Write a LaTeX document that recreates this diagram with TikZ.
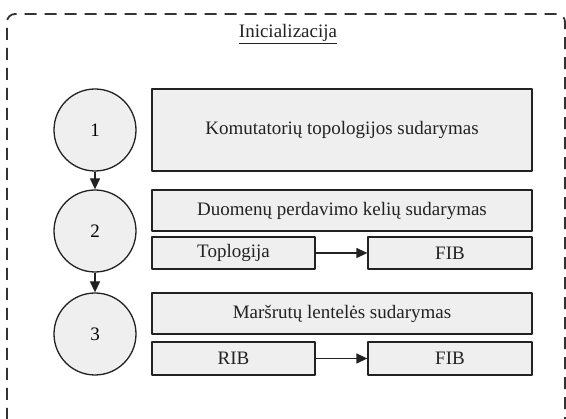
\documentclass[tikz,border=0pt]{standalone}
\usepackage{fontspec}
\setmainfont{Liberation Serif}
\usetikzlibrary{arrows.meta,positioning}
\definecolor{initInk}{HTML}{222222}
\definecolor{initFill}{HTML}{EFEFEF}
\definecolor{initFrame}{HTML}{333333}
\begin{document}
\begin{tikzpicture}[x=1pt,y=-1pt,>={Triangle[length=11pt,width=10pt]},line join=round]
\useasboundingbox[fill=white] (0,0) rectangle (566,419);
\clip (0,0) rectangle (566,419);
\tikzset{stepcircle/.style={circle,draw=initInk,fill=initFill,line width=1.3pt,minimum size=82pt,inner sep=0pt,font=\fontsize{19}{22}\selectfont},
  taskbox/.style={draw=initInk,fill=initFill,line width=1.3pt,inner sep=0pt,font=\fontsize{19}{22}\selectfont,text=initInk},
  link/.style={draw=initInk,line width=1.3pt,->}}
\draw[initFrame,line width=1.8pt,dash pattern=on 12pt off 8pt,rounded corners=8pt] (7,440) -- (7,14) -- (565,14) -- (565,440);
\node[font=\fontsize{19}{22}\selectfont,text=initInk] (title) at (288,34) {\underline{Inicializacija}};
% etapai
\node[stepcircle] (s1) at (95,130) {1};
\node[stepcircle] (s2) at (95,231) {2};
\node[stepcircle] (s3) at (95,334) {3};
\draw[link] (s1) -- (s2); \draw[link] (s2) -- (s3);
% uzduotys
\node[taskbox,minimum width=380pt,minimum height=82pt] (topo) at (342,130) {Komutatorių topologijos sudarymas};
\node[taskbox,minimum width=380pt,minimum height=41pt] (paths) at (342,210.5) {Duomenų perdavimo kelių sudarymas};
\node[taskbox,minimum width=163pt,minimum height=32pt] (toplo) at (233.5,253) {Toplogija};
\node[taskbox,minimum width=164pt,minimum height=32pt] (fibA) at (450,253) {FIB};
\draw[link] (toplo) -- (fibA);
\node[taskbox,minimum width=380pt,minimum height=41pt] (routes) at (342,313.5) {Maršrutų lentelės sudarymas};
\node[taskbox,minimum width=163pt,minimum height=33pt] (rib) at (233.5,358.5) {RIB};
\node[taskbox,minimum width=164pt,minimum height=33pt] (fibB) at (450,358.5) {FIB};
\draw[link] (rib) -- (fibB);
\end{tikzpicture}
\end{document}
